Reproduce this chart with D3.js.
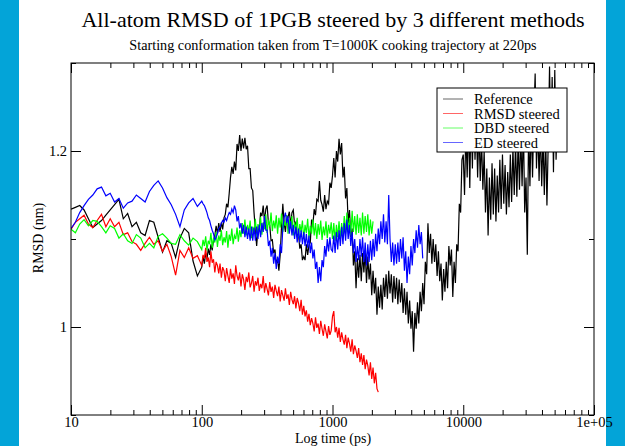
<!DOCTYPE html>
<html>
<head>
<meta charset="utf-8">
<script src="https://cdn.jsdelivr.net/npm/d3@7"></script>
<style>
  body { margin: 0; background: #ffffff; }
  text { font-family: "Liberation Serif", "Times New Roman", serif; fill: #000; }
</style>
</head>
<body>
<div id="chart"></div>
<script>
// Time axis (ps), shared by all four runs
var times = [10, 10.8, 11.66, 12.59, 13.59, 14.68, 15.85, 17.11, 18.48, 19.95, 21.54, 23.26, 25.12, 27.12, 29.29,
  31.62, 34.15, 36.88, 39.81, 42.99, 46.42, 50.12, 54.12, 58.43, 63.1, 68.13, 73.56, 79.43, 85.77, 92.61,
  100, 102.3, 104.7, 107.2, 109.6, 112.2, 114.8, 117.5, 120.2, 123, 125.9, 128.8, 131.8, 134.9, 138, 141.3, 144.5, 147.9, 151.4, 154.9,
  158.5, 162.2, 166, 169.8, 173.8, 177.8, 182, 186.2, 190.5, 195, 199.5, 204.2, 208.9, 213.8, 218.8, 223.9, 229.1, 234.4, 239.9, 245.5,
  251.2, 257, 263, 269.2, 275.4, 281.8, 288.4, 295.1, 302, 309, 316.2, 323.6, 331.1, 338.8, 346.7, 354.8, 363.1, 371.5, 380.2, 389,
  398.1, 407.4, 416.9, 426.6, 436.5, 446.7, 457.1, 467.7, 478.6, 489.8, 501.2, 512.9, 524.8, 537, 549.5, 562.3, 575.4, 588.8, 602.6, 616.6,
  631, 645.7, 660.7, 676.1, 691.8, 707.9, 724.4, 741.3, 758.6, 776.2, 794.3, 812.8, 831.8, 851.1, 871, 891.3, 912, 933.3, 955, 977.2,
  1000, 1023, 1047, 1072, 1096, 1122, 1148, 1175, 1202, 1230, 1259, 1288, 1318, 1349, 1380, 1413, 1445, 1479, 1514, 1549,
  1585, 1622, 1660, 1698, 1738, 1778, 1820, 1862, 1905, 1950, 1995, 2042, 2089, 2138, 2188, 2239, 2291, 2344, 2399, 2455,
  2512, 2570, 2630, 2692, 2754, 2818, 2884, 2951, 3020, 3090, 3162, 3236, 3311, 3388, 3467, 3548, 3631, 3715, 3802, 3890,
  3981, 4074, 4169, 4266, 4365, 4467, 4571, 4677, 4786, 4898, 5012, 5129, 5248, 5370, 5495, 5623, 5754, 5888, 6026, 6166,
  6310, 6457, 6607, 6761, 6918, 7079, 7244, 7413, 7586, 7762, 7943, 8128, 8318, 8511, 8710, 8913, 9120, 9333, 9550, 9772,
  10000, 10230, 10470, 10720, 10960, 11220, 11480, 11750, 12020, 12300, 12590, 12880, 13180, 13490, 13800, 14130, 14450, 14790, 15140, 15490,
  15850, 16220, 16600, 16980, 17380, 17780, 18200, 18620, 19050, 19500, 19950, 20420, 20890, 21380, 21880, 22390, 22910, 23440, 23990, 24550,
  25120, 25700, 26300, 26920, 27540, 28180, 28840, 29510, 30200, 30900, 31620, 32360, 33110, 33880, 34670, 35480, 36310, 37150, 38020, 38900,
  39810, 40740, 41690, 42660, 43650, 44670, 45710, 46770, 47860, 48980, 50120, 51290, 52480];

// RMSD (nm) of each run, index-aligned with times
var refRmsd = [1.134, 1.136, 1.138, 1.133, 1.123, 1.113, 1.117, 1.121, 1.127, 1.133, 1.139, 1.145, 1.123, 1.129, 1.114,
  1.119, 1.107, 1.104, 1.121, 1.119, 1.102, 1.085, 1.098, 1.095, 1.079, 1.101, 1.112, 1.107, 1.075, 1.058,
  1.068, 1.080, 1.072, 1.084, 1.077, 1.089, 1.082, 1.094, 1.087, 1.099, 1.104, 1.115, 1.106, 1.118, 1.108, 1.119, 1.111, 1.124, 1.128, 1.140,
  1.136, 1.152, 1.170, 1.182, 1.174, 1.188, 1.178, 1.208, 1.200, 1.218, 1.200, 1.214, 1.203, 1.215, 1.202, 1.206, 1.180, 1.180, 1.158, 1.155,
  1.130, 1.110, 1.092, 1.112, 1.110, 1.130, 1.126, 1.138, 1.120, 1.134, 1.138, 1.118, 1.116, 1.098, 1.099, 1.084, 1.088, 1.072, 1.077, 1.064,
  1.082, 1.114, 1.140, 1.118, 1.108, 1.126, 1.125, 1.131, 1.116, 1.130, 1.133, 1.116, 1.119, 1.102, 1.106, 1.089, 1.094, 1.076, 1.080, 1.076,
  1.094, 1.082, 1.093, 1.096, 1.122, 1.116, 1.134, 1.127, 1.145, 1.143, 1.166, 1.144, 1.139, 1.131, 1.150, 1.134, 1.143, 1.140, 1.164, 1.158,
  1.172, 1.192, 1.170, 1.200, 1.188, 1.214, 1.196, 1.209, 1.170, 1.182, 1.146, 1.158, 1.118, 1.133, 1.102, 1.112, 1.070, 1.086, 1.044, 1.078,
  1.056, 1.082, 1.052, 1.084, 1.062, 1.086, 1.050, 1.080, 1.054, 1.072, 1.036, 1.064, 1.038, 1.056, 1.014, 1.046, 1.022, 1.048, 1.020, 1.056,
  1.034, 1.060, 1.032, 1.064, 1.038, 1.060, 1.028, 1.058, 1.032, 1.056, 1.026, 1.054, 1.028, 1.050, 1.016, 1.044, 1.014, 1.040, 1.004, 1.030,
  0.998, 1.018, 0.972, 1.016, 0.998, 1.028, 1.004, 1.040, 1.018, 1.050, 1.026, 1.074, 1.060, 1.118, 1.084, 1.106, 1.072, 1.100, 1.074, 1.094,
  1.058, 1.086, 1.052, 1.072, 1.030, 1.066, 1.040, 1.074, 1.044, 1.092, 1.070, 1.088, 1.034, 1.074, 1.050, 1.094, 1.086, 1.140, 1.130, 1.190,
  1.196, 1.150, 1.224, 1.170, 1.240, 1.158, 1.250, 1.180, 1.262, 1.190, 1.236, 1.170, 1.228, 1.166, 1.214, 1.156, 1.200, 1.130, 1.180, 1.104,
  1.170, 1.122, 1.186, 1.128, 1.180, 1.120, 1.172, 1.130, 1.190, 1.134, 1.196, 1.140, 1.184, 1.128, 1.176, 1.136, 1.196, 1.142, 1.204, 1.150,
  1.210, 1.148, 1.214, 1.156, 1.220, 1.160, 1.230, 1.130, 1.170, 1.082, 1.226, 1.160, 1.236, 1.170, 1.240, 1.288, 1.180, 1.230, 1.166, 1.226,
  1.160, 1.216, 1.150, 1.220, 1.138, 1.210, 1.296, 1.200, 1.284, 1.176, 1.292, 1.190, 1.240];

var rmsdSteered = [1.111, 1.119, 1.123, 1.127, 1.117, 1.113, 1.121, 1.128, 1.114, 1.123, 1.114, 1.119, 1.105, 1.107, 1.097,
  1.094, 1.087, 1.095, 1.102, 1.094, 1.098, 1.086, 1.094, 1.080, 1.059, 1.087, 1.079, 1.090, 1.078, 1.081,
  1.070, 1.082, 1.078, 1.090, 1.074, 1.079, 1.068, 1.086, 1.073, 1.077, 1.062, 1.074, 1.070, 1.061, 1.072, 1.056, 1.068, 1.064, 1.052, 1.067,
  1.058, 1.050, 1.066, 1.055, 1.061, 1.049, 1.070, 1.058, 1.053, 1.062, 1.046, 1.060, 1.054, 1.042, 1.057, 1.051, 1.062, 1.045, 1.050, 1.058,
  1.040, 1.052, 1.047, 1.056, 1.041, 1.049, 1.044, 1.058, 1.039, 1.050, 1.043, 1.036, 1.051, 1.040, 1.046, 1.033, 1.048, 1.041, 1.035, 1.046,
  1.029, 1.042, 1.036, 1.030, 1.044, 1.032, 1.037, 1.025, 1.040, 1.031, 1.026, 1.035, 1.021, 1.033, 1.027, 1.018, 1.031, 1.014, 1.024, 1.012,
  1.019, 1.006, 1.015, 1.002, 1.010, 1.004, 0.995, 1.011, 0.999, 1.004, 0.992, 1.007, 0.998, 0.990, 1.003, 0.995, 0.987, 1.001, 0.991, 0.996,
  1.012, 1.018, 0.994, 1.000, 0.988, 0.999, 0.983, 0.994, 0.986, 0.980, 0.991, 0.976, 0.988, 0.981, 0.972, 0.986, 0.969, 0.979, 0.973, 0.965,
  0.976, 0.960, 0.970, 0.957, 0.968, 0.952, 0.963, 0.956, 0.945, 0.960, 0.941, 0.954, 0.936, 0.948, 0.930, 0.926];

var dbdSteered = [1.111, 1.107, 1.117, 1.122, 1.115, 1.121, 1.120, 1.114, 1.107, 1.115, 1.112, 1.101, 1.106, 1.098, 1.095,
  1.105, 1.101, 1.090, 1.095, 1.090, 1.103, 1.106, 1.101, 1.095, 1.094, 1.105, 1.098, 1.093, 1.101, 1.097,
  1.088, 1.099, 1.092, 1.103, 1.087, 1.098, 1.094, 1.107, 1.090, 1.101, 1.096, 1.108, 1.091, 1.104, 1.098, 1.110, 1.093, 1.102, 1.096, 1.109,
  1.090, 1.105, 1.098, 1.112, 1.094, 1.104, 1.100, 1.113, 1.097, 1.110, 1.102, 1.118, 1.106, 1.122, 1.104, 1.116, 1.108, 1.121, 1.101, 1.114,
  1.107, 1.123, 1.103, 1.117, 1.110, 1.125, 1.105, 1.119, 1.111, 1.128, 1.107, 1.122, 1.114, 1.130, 1.109, 1.121, 1.112, 1.127, 1.106, 1.124,
  1.113, 1.129, 1.108, 1.120, 1.115, 1.127, 1.106, 1.122, 1.112, 1.126, 1.104, 1.119, 1.109, 1.124, 1.102, 1.117, 1.108, 1.121, 1.100, 1.116,
  1.107, 1.123, 1.101, 1.115, 1.106, 1.122, 1.104, 1.118, 1.100, 1.117, 1.105, 1.121, 1.099, 1.114, 1.104, 1.120, 1.101, 1.116, 1.106, 1.119,
  1.100, 1.118, 1.098, 1.116, 1.102, 1.120, 1.100, 1.118, 1.104, 1.126, 1.106, 1.130, 1.108, 1.124, 1.104, 1.132, 1.108, 1.126, 1.105, 1.128,
  1.107, 1.124, 1.104, 1.130, 1.106, 1.126, 1.108, 1.128, 1.104, 1.122, 1.106, 1.120];

var edSteered = [1.112, 1.119, 1.130, 1.138, 1.145, 1.150, 1.157, 1.159, 1.149, 1.152, 1.142, 1.146, 1.135, 1.141, 1.143,
  1.150, 1.146, 1.142, 1.154, 1.161, 1.166, 1.158, 1.147, 1.139, 1.128, 1.114, 1.133, 1.141, 1.146, 1.137,
  1.143, 1.140, 1.138, 1.134, 1.130, 1.124, 1.121, 1.115, 1.110, 1.106, 1.099, 1.102, 1.106, 1.112, 1.114, 1.118, 1.121, 1.119, 1.124, 1.121,
  1.126, 1.130, 1.128, 1.134, 1.130, 1.138, 1.133, 1.120, 1.126, 1.112, 1.118, 1.106, 1.116, 1.102, 1.114, 1.100, 1.112, 1.098, 1.114, 1.098,
  1.113, 1.098, 1.114, 1.100, 1.116, 1.102, 1.118, 1.108, 1.126, 1.110, 1.110, 1.092, 1.098, 1.080, 1.090, 1.072, 1.084, 1.066, 1.080, 1.072,
  1.094, 1.084, 1.112, 1.124, 1.130, 1.118, 1.126, 1.106, 1.120, 1.104, 1.116, 1.100, 1.114, 1.096, 1.112, 1.096, 1.110, 1.094, 1.108, 1.092,
  1.106, 1.090, 1.104, 1.084, 1.096, 1.078, 1.088, 1.066, 1.074, 1.050, 1.068, 1.052, 1.076, 1.068, 1.092, 1.080, 1.100, 1.086, 1.102, 1.088,
  1.086, 1.104, 1.084, 1.108, 1.088, 1.110, 1.092, 1.114, 1.094, 1.118, 1.098, 1.122, 1.100, 1.116, 1.092, 1.108, 1.084, 1.100, 1.074, 1.092,
  1.076, 1.100, 1.080, 1.102, 1.074, 1.096, 1.070, 1.094, 1.074, 1.098, 1.076, 1.100, 1.080, 1.106, 1.086, 1.112, 1.094, 1.120, 1.100, 1.128,
  1.096, 1.120, 1.094, 1.150, 1.100, 1.074, 1.096, 1.070, 1.094, 1.072, 1.096, 1.074, 1.100, 1.078, 1.102, 1.064, 1.086, 1.050, 1.080, 1.060,
  1.092, 1.070, 1.100, 1.084, 1.110, 1.090, 1.116, 1.094, 1.108, 1.078];

var seriesNames = ["Reference", "RMSD steered", "DBD steered", "ED steered"];
var seriesColors = ["#000000", "#ff0000", "#00ff00", "#0000ff"];
var seriesValues = [refRmsd, rmsdSteered, dbdSteered, edSteered];

var xMajorTicks = [10, 100, 1000, 10000, 100000];
var xTickLabels = ["10", "100", "1000", "10000", "1e+05"];
var yMajorTicks = [1.0, 1.2];
var yTickLabels = ["1", "1.2"];
var yMinorTicks = [0.9, 1.1, 1.3];

var serif = "'Liberation Serif', 'Times New Roman', serif";

// SVG area
var svgWidth = 625;
var svgHeight = 446;

var margin = { top: 63, right: 31, bottom: 31, left: 71 };
var chartWidth = svgWidth - margin.left - margin.right;
var chartHeight = svgHeight - margin.top - margin.bottom;

var svg = d3.select("#chart")
  .append("svg")
  .attr("width", svgWidth)
  .attr("height", svgHeight)
  .style("font-family", serif);

// blue page border with white sheet
svg.append("rect")
  .attr("width", svgWidth)
  .attr("height", svgHeight)
  .attr("fill", "#03a4d8");
svg.append("rect")
  .attr("x", 19)
  .attr("width", 587)
  .attr("height", svgHeight)
  .attr("fill", "#ffffff");

var chartGroup = svg.append("g")
  .attr("transform", `translate(${margin.left}, ${margin.top})`);

// Scales
var xLogScale = d3.scaleLog()
  .domain([10, 100000])
  .range([0, chartWidth]);

var yLinearScale = d3.scaleLinear()
  .domain([0.9, 1.3])
  .range([chartHeight, 0]);

// minor x ticks: 2..9 in each decade
var xMinorTicks = [];
xMajorTicks.slice(0, -1).forEach(function(d) {
  for (var m = 2; m <= 9; m++) xMinorTicks.push(d * m);
});

chartGroup.append("defs").append("clipPath")
  .attr("id", "clip")
  .append("rect")
  .attr("width", chartWidth)
  .attr("height", chartHeight);

// Data lines
var line = d3.line()
  .x(d => xLogScale(d[0]))
  .y(d => yLinearScale(d[1]));

var lineGroup = chartGroup.append("g").attr("clip-path", "url(#clip)");
seriesValues.forEach(function(vals, i) {
  var pts = vals.map((v, j) => [times[j], v]);
  lineGroup.append("path")
    .datum(pts)
    .attr("d", line)
    .attr("fill", "none")
    .attr("stroke", seriesColors[i])
    .attr("stroke-width", 1.2);
});

// Axes, ticks pointing inward on all four sides
function styleAxis(g) {
  g.select(".domain").remove();
  g.attr("font-family", null);
  g.selectAll("line").attr("stroke", "#000");
  g.selectAll("text")
    .style("font-family", serif)
    .attr("font-size", "14.5px");
}

chartGroup.append("g")
  .attr("transform", `translate(0, ${chartHeight})`)
  .call(d3.axisBottom(xLogScale).tickValues(xMajorTicks).tickSizeInner(-10).tickPadding(2)
    .tickFormat((d, i) => xTickLabels[i]))
  .call(styleAxis);
chartGroup.append("g")
  .attr("transform", `translate(0, ${chartHeight})`)
  .call(d3.axisBottom(xLogScale).tickValues(xMinorTicks).tickSizeInner(-5).tickFormat(""))
  .call(styleAxis);
chartGroup.append("g")
  .call(d3.axisTop(xLogScale).tickValues(xMajorTicks).tickSizeInner(-10).tickFormat(""))
  .call(styleAxis);
chartGroup.append("g")
  .call(d3.axisTop(xLogScale).tickValues(xMinorTicks).tickSizeInner(-5).tickFormat(""))
  .call(styleAxis);

chartGroup.append("g")
  .call(d3.axisLeft(yLinearScale).tickValues(yMajorTicks).tickSizeInner(-10).tickPadding(4)
    .tickFormat((d, i) => yTickLabels[i]))
  .call(styleAxis);
chartGroup.append("g")
  .call(d3.axisLeft(yLinearScale).tickValues(yMinorTicks).tickSizeInner(-5).tickFormat(""))
  .call(styleAxis);
chartGroup.append("g")
  .attr("transform", `translate(${chartWidth}, 0)`)
  .call(d3.axisRight(yLinearScale).tickValues(yMajorTicks).tickSizeInner(-10).tickFormat(""))
  .call(styleAxis);
chartGroup.append("g")
  .attr("transform", `translate(${chartWidth}, 0)`)
  .call(d3.axisRight(yLinearScale).tickValues(yMinorTicks).tickSizeInner(-5).tickFormat(""))
  .call(styleAxis);

// frame
chartGroup.append("rect")
  .attr("width", chartWidth)
  .attr("height", chartHeight)
  .attr("fill", "none")
  .attr("stroke", "#000")
  .attr("stroke-width", 1);

// Legend (opaque box)
var legend = chartGroup.append("g")
  .attr("transform", `translate(${437 - margin.left}, ${88 - margin.top})`);
legend.append("rect")
  .attr("width", 130)
  .attr("height", 64)
  .attr("fill", "#fff")
  .attr("stroke", "#000");
seriesNames.forEach(function(name, i) {
  var yRow = 11 + i * 14.5;
  legend.append("line")
    .attr("x1", 6).attr("x2", 26)
    .attr("y1", yRow).attr("y2", yRow)
    .attr("stroke", seriesColors[i])
    .attr("stroke-opacity", 0.6)
    .attr("stroke-width", 1);
  legend.append("text")
    .attr("x", 37)
    .attr("y", yRow + 5)
    .attr("font-size", "14.5px")
    .text(name);
});

// Titles and axis labels
svg.append("text")
  .attr("x", 333)
  .attr("y", 27)
  .attr("text-anchor", "middle")
  .attr("font-size", "22px")
  .text("All-atom RMSD of 1PGB steered by 3 different methods");

svg.append("text")
  .attr("x", 333)
  .attr("y", 50)
  .attr("text-anchor", "middle")
  .attr("font-size", "14.2px")
  .text("Starting conformation taken from T=1000K cooking trajectory at 220ps");

svg.append("text")
  .attr("transform", "rotate(-90)")
  .attr("x", -238)
  .attr("y", 43)
  .attr("text-anchor", "middle")
  .attr("font-size", "14px")
  .text("RMSD (nm)");

svg.append("text")
  .attr("x", 333)
  .attr("y", 443)
  .attr("text-anchor", "middle")
  .attr("font-size", "14px")
  .text("Log time (ps)");
</script>
</body>
</html>
